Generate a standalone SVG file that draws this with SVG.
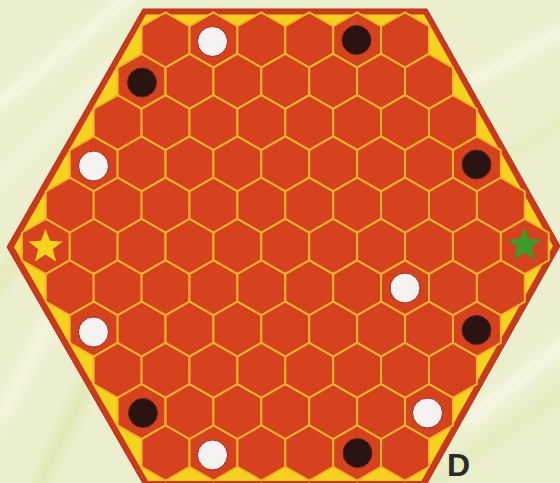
<svg xmlns="http://www.w3.org/2000/svg" xmlns:xlink="http://www.w3.org/1999/xlink" width="560" height="483" viewBox="0 0 560 483">
  <defs>
    <style>
      .cell { fill: #d6411e; stroke: #f0b62a; stroke-width: 2; stroke-linejoin: miter; }
      .white { fill: #f5f3f1; stroke: #9a2a1c; stroke-width: 1; }
      .black { fill: #2a1411; stroke: #5c2418; stroke-width: 1; }
      .streak { fill: none; stroke-linecap: round; }
    </style>
    <polygon id="h" points="0,-27.53 23.95,-13.77 23.95,13.77 0,27.53 -23.95,13.77 -23.95,-13.77"/>
    <polygon id="star" points="0,-18 4.47,-6.15 17.12,-5.56 7.23,2.35 10.58,14.56 0,7.6 -10.58,14.56 -7.23,2.35 -17.12,-5.56 -4.47,-6.15"/>
    <filter id="blur" x="-20%" y="-20%" width="140%" height="140%">
      <feGaussianBlur stdDeviation="6"/>
    </filter>
  </defs>

  <g id="background">
    <rect x="0" y="0" width="560" height="483" fill="#ecefcd"/>
    <g filter="url(#blur)" opacity="0.8">
      <path class="streak" d="M-20,120 L150,-20" stroke="#f9f9ea" stroke-width="14"/>
      <path class="streak" d="M-20,200 L140,40" stroke="#f9f9ea" stroke-width="10"/>
      <path class="streak" d="M-10,300 L90,130" stroke="#dfe8b0" stroke-width="12"/>
      <path class="streak" d="M0,420 L60,300" stroke="#f7f7e4" stroke-width="16"/>
      <path class="streak" d="M40,483 L90,380" stroke="#dde6ae" stroke-width="14"/>
      <path class="streak" d="M440,100 L580,20" stroke="#f9f9ea" stroke-width="14"/>
      <path class="streak" d="M470,180 L580,110" stroke="#e2eab8" stroke-width="10"/>
      <path class="streak" d="M470,420 L580,330" stroke="#f9f9ea" stroke-width="16"/>
      <path class="streak" d="M430,483 L580,380" stroke="#dfe8b2" stroke-width="12"/>
      <path class="streak" d="M200,-10 L420,-10" stroke="#f3f5dc" stroke-width="10"/>
    </g>
  </g>

  <g id="board">
    <polygon id="border" points="143,9 427,9 560,246 425,487 145,487 7,247" fill="#cc381b" stroke="#b52f19" stroke-width="1"/>
    <polygon id="yellow" points="146,14.5 424,14.5 553,246 421.5,481 148,481 14,247" fill="#f3d31b"/>
  </g>

  <g id="cells">
    <!-- row 0 -->
    <use xlink:href="#h" href="#h" class="cell" x="165.55" y="40"/>
    <use xlink:href="#h" href="#h" class="cell" x="213.45" y="40"/>
    <use xlink:href="#h" href="#h" class="cell" x="261.35" y="40"/>
    <use xlink:href="#h" href="#h" class="cell" x="309.25" y="40"/>
    <use xlink:href="#h" href="#h" class="cell" x="357.15" y="40"/>
    <use xlink:href="#h" href="#h" class="cell" x="405.05" y="40"/>
    <!-- row 1 -->
    <use xlink:href="#h" href="#h" class="cell" x="141.6" y="81.3"/>
    <use xlink:href="#h" href="#h" class="cell" x="189.5" y="81.3"/>
    <use xlink:href="#h" href="#h" class="cell" x="237.4" y="81.3"/>
    <use xlink:href="#h" href="#h" class="cell" x="285.3" y="81.3"/>
    <use xlink:href="#h" href="#h" class="cell" x="333.2" y="81.3"/>
    <use xlink:href="#h" href="#h" class="cell" x="381.1" y="81.3"/>
    <use xlink:href="#h" href="#h" class="cell" x="429.0" y="81.3"/>
    <!-- row 2 -->
    <use xlink:href="#h" href="#h" class="cell" x="117.65" y="122.6"/>
    <use xlink:href="#h" href="#h" class="cell" x="165.55" y="122.6"/>
    <use xlink:href="#h" href="#h" class="cell" x="213.45" y="122.6"/>
    <use xlink:href="#h" href="#h" class="cell" x="261.35" y="122.6"/>
    <use xlink:href="#h" href="#h" class="cell" x="309.25" y="122.6"/>
    <use xlink:href="#h" href="#h" class="cell" x="357.15" y="122.6"/>
    <use xlink:href="#h" href="#h" class="cell" x="405.05" y="122.6"/>
    <use xlink:href="#h" href="#h" class="cell" x="452.95" y="122.6"/>
    <!-- row 3 -->
    <use xlink:href="#h" href="#h" class="cell" x="93.7" y="163.9"/>
    <use xlink:href="#h" href="#h" class="cell" x="141.6" y="163.9"/>
    <use xlink:href="#h" href="#h" class="cell" x="189.5" y="163.9"/>
    <use xlink:href="#h" href="#h" class="cell" x="237.4" y="163.9"/>
    <use xlink:href="#h" href="#h" class="cell" x="285.3" y="163.9"/>
    <use xlink:href="#h" href="#h" class="cell" x="333.2" y="163.9"/>
    <use xlink:href="#h" href="#h" class="cell" x="381.1" y="163.9"/>
    <use xlink:href="#h" href="#h" class="cell" x="429.0" y="163.9"/>
    <use xlink:href="#h" href="#h" class="cell" x="476.9" y="163.9"/>
    <!-- row 4 -->
    <use xlink:href="#h" href="#h" class="cell" x="69.75" y="205.2"/>
    <use xlink:href="#h" href="#h" class="cell" x="117.65" y="205.2"/>
    <use xlink:href="#h" href="#h" class="cell" x="165.55" y="205.2"/>
    <use xlink:href="#h" href="#h" class="cell" x="213.45" y="205.2"/>
    <use xlink:href="#h" href="#h" class="cell" x="261.35" y="205.2"/>
    <use xlink:href="#h" href="#h" class="cell" x="309.25" y="205.2"/>
    <use xlink:href="#h" href="#h" class="cell" x="357.15" y="205.2"/>
    <use xlink:href="#h" href="#h" class="cell" x="405.05" y="205.2"/>
    <use xlink:href="#h" href="#h" class="cell" x="452.95" y="205.2"/>
    <use xlink:href="#h" href="#h" class="cell" x="500.85" y="205.2"/>
    <!-- row 5 -->
    <use xlink:href="#h" href="#h" class="cell" x="45.8" y="246.5"/>
    <use xlink:href="#h" href="#h" class="cell" x="93.7" y="246.5"/>
    <use xlink:href="#h" href="#h" class="cell" x="141.6" y="246.5"/>
    <use xlink:href="#h" href="#h" class="cell" x="189.5" y="246.5"/>
    <use xlink:href="#h" href="#h" class="cell" x="237.4" y="246.5"/>
    <use xlink:href="#h" href="#h" class="cell" x="285.3" y="246.5"/>
    <use xlink:href="#h" href="#h" class="cell" x="333.2" y="246.5"/>
    <use xlink:href="#h" href="#h" class="cell" x="381.1" y="246.5"/>
    <use xlink:href="#h" href="#h" class="cell" x="429.0" y="246.5"/>
    <use xlink:href="#h" href="#h" class="cell" x="476.9" y="246.5"/>
    <use xlink:href="#h" href="#h" class="cell" x="524.8" y="246.5"/>
    <!-- row 6 -->
    <use xlink:href="#h" href="#h" class="cell" x="69.75" y="287.8"/>
    <use xlink:href="#h" href="#h" class="cell" x="117.65" y="287.8"/>
    <use xlink:href="#h" href="#h" class="cell" x="165.55" y="287.8"/>
    <use xlink:href="#h" href="#h" class="cell" x="213.45" y="287.8"/>
    <use xlink:href="#h" href="#h" class="cell" x="261.35" y="287.8"/>
    <use xlink:href="#h" href="#h" class="cell" x="309.25" y="287.8"/>
    <use xlink:href="#h" href="#h" class="cell" x="357.15" y="287.8"/>
    <use xlink:href="#h" href="#h" class="cell" x="405.05" y="287.8"/>
    <use xlink:href="#h" href="#h" class="cell" x="452.95" y="287.8"/>
    <use xlink:href="#h" href="#h" class="cell" x="500.85" y="287.8"/>
    <!-- row 7 -->
    <use xlink:href="#h" href="#h" class="cell" x="93.7" y="329.1"/>
    <use xlink:href="#h" href="#h" class="cell" x="141.6" y="329.1"/>
    <use xlink:href="#h" href="#h" class="cell" x="189.5" y="329.1"/>
    <use xlink:href="#h" href="#h" class="cell" x="237.4" y="329.1"/>
    <use xlink:href="#h" href="#h" class="cell" x="285.3" y="329.1"/>
    <use xlink:href="#h" href="#h" class="cell" x="333.2" y="329.1"/>
    <use xlink:href="#h" href="#h" class="cell" x="381.1" y="329.1"/>
    <use xlink:href="#h" href="#h" class="cell" x="429.0" y="329.1"/>
    <use xlink:href="#h" href="#h" class="cell" x="476.9" y="329.1"/>
    <!-- row 8 -->
    <use xlink:href="#h" href="#h" class="cell" x="117.65" y="370.4"/>
    <use xlink:href="#h" href="#h" class="cell" x="165.55" y="370.4"/>
    <use xlink:href="#h" href="#h" class="cell" x="213.45" y="370.4"/>
    <use xlink:href="#h" href="#h" class="cell" x="261.35" y="370.4"/>
    <use xlink:href="#h" href="#h" class="cell" x="309.25" y="370.4"/>
    <use xlink:href="#h" href="#h" class="cell" x="357.15" y="370.4"/>
    <use xlink:href="#h" href="#h" class="cell" x="405.05" y="370.4"/>
    <use xlink:href="#h" href="#h" class="cell" x="452.95" y="370.4"/>
    <!-- row 9 -->
    <use xlink:href="#h" href="#h" class="cell" x="141.6" y="411.7"/>
    <use xlink:href="#h" href="#h" class="cell" x="189.5" y="411.7"/>
    <use xlink:href="#h" href="#h" class="cell" x="237.4" y="411.7"/>
    <use xlink:href="#h" href="#h" class="cell" x="285.3" y="411.7"/>
    <use xlink:href="#h" href="#h" class="cell" x="333.2" y="411.7"/>
    <use xlink:href="#h" href="#h" class="cell" x="381.1" y="411.7"/>
    <use xlink:href="#h" href="#h" class="cell" x="429.0" y="411.7"/>
    <!-- row 10 -->
    <use xlink:href="#h" href="#h" class="cell" x="165.55" y="453"/>
    <use xlink:href="#h" href="#h" class="cell" x="213.45" y="453"/>
    <use xlink:href="#h" href="#h" class="cell" x="261.35" y="453"/>
    <use xlink:href="#h" href="#h" class="cell" x="309.25" y="453"/>
    <use xlink:href="#h" href="#h" class="cell" x="357.15" y="453"/>
    <use xlink:href="#h" href="#h" class="cell" x="405.05" y="453"/>
  </g>

  <g id="stars">
    <use xlink:href="#star" href="#star" x="45.5" y="247" fill="#f3d31b"/>
    <use xlink:href="#star" href="#star" x="524.5" y="245" fill="#3d9b2c"/>
  </g>

  <g id="pieces">
    <circle class="white" cx="212.5" cy="41.5" r="15"/>
    <circle class="black" cx="356.5" cy="40" r="14.5"/>
    <circle class="black" cx="142" cy="82.5" r="14.5"/>
    <circle class="white" cx="93.5" cy="166" r="15"/>
    <circle class="black" cx="476.5" cy="164.5" r="14.5"/>
    <circle class="white" cx="405" cy="288" r="15"/>
    <circle class="black" cx="476.5" cy="330" r="14.5"/>
    <circle class="white" cx="93.5" cy="332" r="15"/>
    <circle class="black" cx="143" cy="413" r="14.5"/>
    <circle class="white" cx="427.5" cy="413" r="15"/>
    <circle class="white" cx="212.5" cy="455" r="15"/>
    <circle class="black" cx="357.5" cy="453" r="14.5"/>
  </g>

  <g id="label">
    <text x="447" y="476" font-family="'Liberation Sans', Arial, sans-serif" font-weight="bold" font-size="32" fill="#2a2a2a">D</text>
  </g>
</svg>
